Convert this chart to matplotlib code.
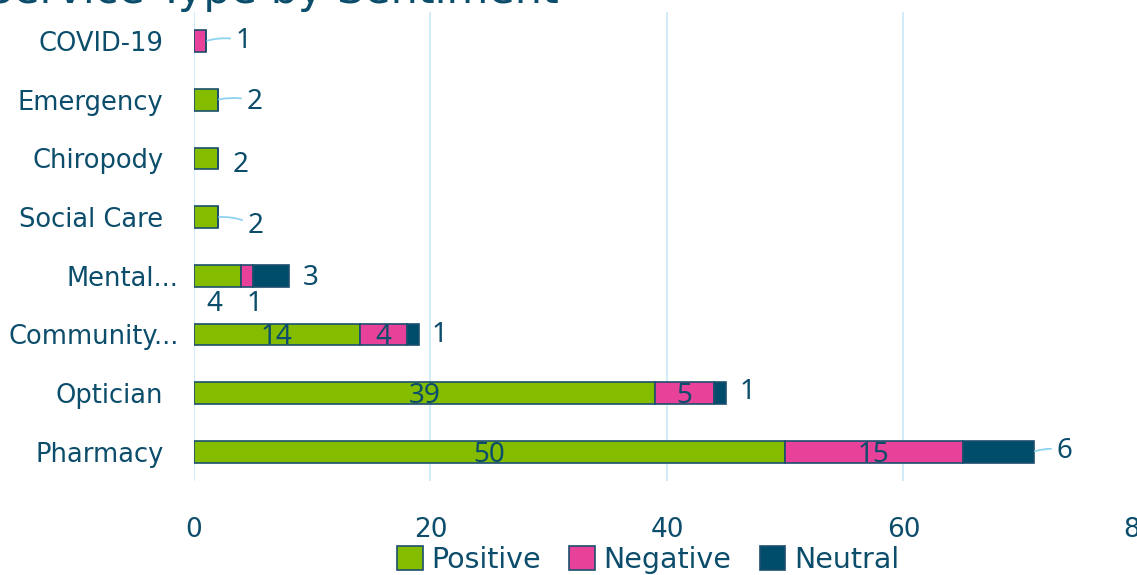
import matplotlib as mpl
import matplotlib.pyplot as plt
import matplotlib.transforms as mtrans
import numpy as np

mpl.rcParams["font.family"] = ["DejaVu Sans"]

categories = ["Pharmacy", "Optician", "Community...", "Mental...",
              "Social Care", "Chiropody", "Emergency", "COVID-19"]
positive = [50, 39, 14, 4, 2, 2, 2, 0]
negative = [15, 5, 4, 1, 0, 0, 0, 1]
neutral = [6, 1, 1, 3, 0, 0, 0, 0]

series = [("Positive", positive, "#84BD00"),
          ("Negative", negative, "#E8419A"),
          ("Neutral", neutral, "#004D6B")]

txt_col = "#0B4D6B"
edge_col = "#1C4F6E"
grid_col = "#C9E9F8"
leader_col = "#8FD3F0"

# end label offsets (pixels) and whether a leader line is drawn
end_off = {"Pharmacy": (23, 1, True), "Optician": (13, 1, False),
           "Community...": (13, -1, False), "Mental...": (14, -2, False),
           "Social Care": (30, -9, True), "Chiropody": (15, -7, False),
           "Emergency": (29, -2, True), "COVID-19": (30, 0, True)}

fig = plt.figure(figsize=(11.37, 5.75), dpi=100)
ax = fig.add_axes([0.1706, 0.1635, 0.832, 0.816])

y = np.arange(len(categories))
left = np.zeros(len(categories))
for name, vals, col in series:
    vals = np.array(vals, dtype=float)
    ax.barh(y, vals, left=left, height=0.37, color=col, edgecolor=edge_col,
            linewidth=1.2, label=name, zorder=3)
    left += vals

# data labels
ends = left.copy()
for i, cat in enumerate(categories):
    start = 0
    segs = [(s[1][i]) for s in series]
    last = max(k for k, v in enumerate(segs) if v > 0)
    for k, v in enumerate(segs):
        if v == 0:
            continue
        if k == last:
            dx, dy, lead = end_off[cat]
            kw = {}
            if lead:
                kw["arrowprops"] = dict(arrowstyle="-", color=leader_col, lw=1.3,
                                        shrinkA=2, shrinkB=1,
                                        connectionstyle="arc3,rad=0.15")
            ax.annotate(str(v), xy=(ends[i], y[i]), xytext=(dx, dy),
                        textcoords="offset pixels", ha="left", va="center",
                        fontsize=20, color=txt_col, family=["Noto Sans"], **kw)
        else:
            if cat == "Mental...":
                off = (-3, -28) if k == 0 else (7, -28)
            else:
                off = (0, -3)
            ax.annotate(str(v), xy=(start + v / 2, y[i]), xytext=off,
                        textcoords="offset pixels", ha="center", va="center",
                        fontsize=20, color=txt_col, family=["Noto Sans"],
                        zorder=4)
        start += v

ax.set_xlim(0, 80)
ax.set_ylim(-0.5, len(categories) - 0.5)
ax.set_xticks([0, 20, 40, 60, 80])
ax.set_yticks(y)
ax.set_yticklabels(categories)
ax.tick_params(axis="x", length=0, pad=26, labelsize=19, labelcolor=txt_col)
ax.tick_params(axis="y", length=0, pad=22, labelsize=18.5, labelcolor=txt_col)
ax.grid(axis="x", color=grid_col, lw=1.2, zorder=0)
for s in ax.spines.values():
    s.set_visible(False)

# truncated labels sit a little further right
shift = mtrans.ScaledTranslation(15 / 100, 0, fig.dpi_scale_trans)
for lab in ax.get_yticklabels():
    if lab.get_text().endswith("..."):
        lab.set_transform(lab.get_transform() + shift)

fig.text(-0.012, 0.994, "Service Type by Sentiment", fontsize=31,
         color=txt_col, ha="left", va="baseline")

leg = fig.legend(loc="center", bbox_to_anchor=(0.57, 0.026), ncol=3,
                 frameon=False, fontsize=20.5, handlelength=0.9,
                 handleheight=0.9, handletextpad=0.3, columnspacing=1.0,
                 labelcolor=txt_col, borderaxespad=0)

fig.savefig("out.png", dpi=100)
